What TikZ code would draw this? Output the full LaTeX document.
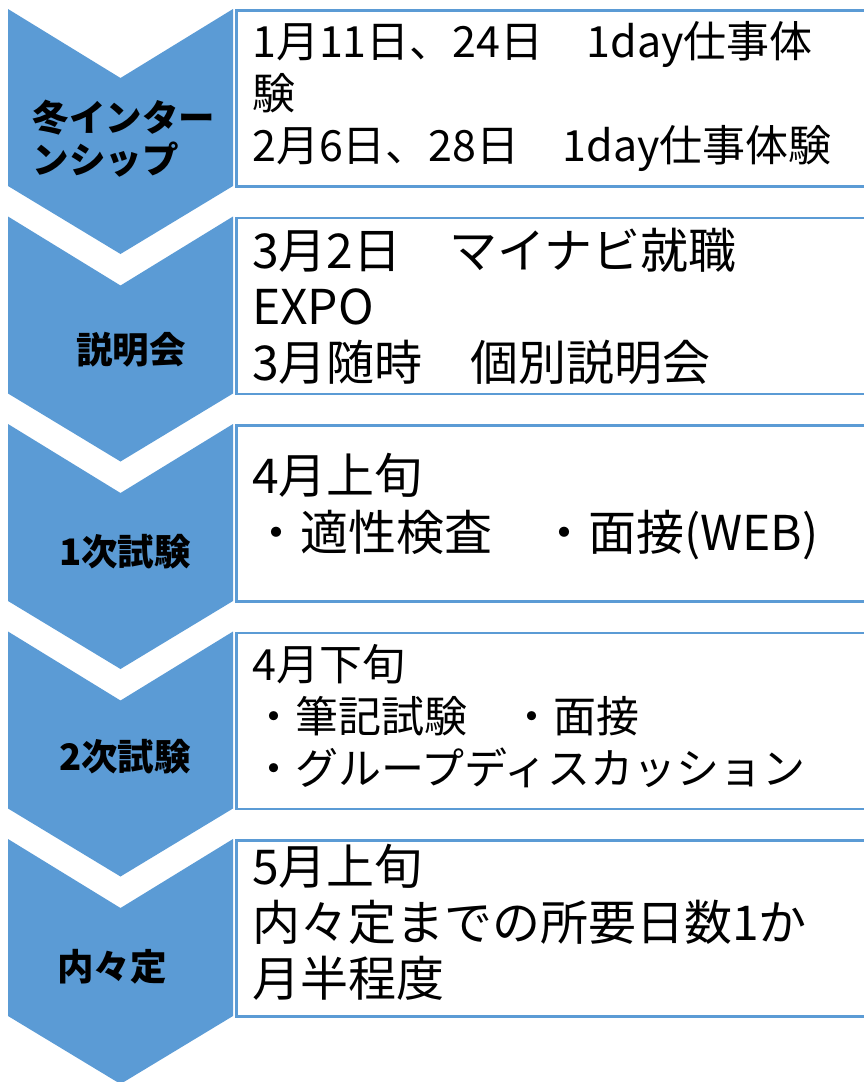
\documentclass[tikz,border=0pt]{standalone}
\usepackage{fontspec}
\setmainfont{Noto Sans CJK JP}
\usepackage{xcolor}
\usepackage{tikz}
\usetikzlibrary{positioning}
\definecolor{chevblue}{HTML}{5B9BD5}
\tikzset{chev/.style={fill=chevblue,draw=none},
  chev label/.style={font=\bfseries\fontsize{36.5}{42}\selectfont,align=left,inner sep=0pt},
  info box/.style={draw=chevblue,line width=2.5pt,fill=white,minimum width=640pt,minimum height=176pt,anchor=north west,inner sep=0pt},
  info text/.style={font=\fontsize{48}{56}\selectfont,align=left,inner sep=0pt,anchor=west},
  small text/.style={info text,font=\fontsize{43}{52}\selectfont},}

\begin{document}
\begin{tikzpicture}[x=1pt,y=-1pt]
	\useasboundingbox (0,0) rectangle (864,1082);

	\begin{scope}[yshift=0pt]
    \fill[chev] (8,9) -- (120.5,78) -- (233,9) -- (233,186) -- (120.5,254) -- (8,186) -- cycle;
    \node[chev label] (step1) at (124,139) {冬インター\\ンシップ};
    \node[info box] (box1) at (235,9) {};
    \node[small text] (text1) at (252,96.5) {1月11日、24日　1day仕事体\\験\\2月6日、28日　1day仕事体験};
    \end{scope}

	\begin{scope}[yshift=-207.5pt]
    \fill[chev] (8,9) -- (120.5,78) -- (233,9) -- (233,186) -- (120.5,254) -- (8,186) -- cycle;
    \node[chev label] (step2) at (131,142.5) {説明会};
    \node[info box] (box2) at (235,9) {};
    \node[info text] (text2) at (252,98.5) {3月2日　マイナビ就職\\EXPO\\3月随時　個別説明会};
    \end{scope}

	\begin{scope}[yshift=-415pt]
    \fill[chev] (8,9) -- (120.5,78) -- (233,9) -- (233,186) -- (120.5,254) -- (8,186) -- cycle;
    \node[chev label] (step3) at (125,137) {1次試験};
    \node[info box] (box3) at (235,9) {};
    \node[info text,font=\fontsize{48}{57}\selectfont] (text3) at (252,91.5) {4月上旬\\・適性検査　・面接(WEB)};
    \end{scope}

	\begin{scope}[yshift=-622.5pt]
    \fill[chev] (8,9) -- (120.5,78) -- (233,9) -- (233,186) -- (120.5,254) -- (8,186) -- cycle;
    \node[chev label] (step4) at (125,134.5) {2次試験};
    \node[info box] (box4) at (235,9) {};
    \node[small text] (text4) at (252,93.5) {4月下旬\\・筆記試験　・面接\\・グループディスカッション};
    \end{scope}

	\begin{scope}[yshift=-830pt]
    \fill[chev] (8,9) -- (120.5,78) -- (233,9) -- (233,186) -- (120.5,254) -- (8,186) -- cycle;
    \node[chev label] (step5) at (112,137) {内々定};
    \node[info box] (box5) at (235,9) {};
    \node[info text] (text5) at (252,92) {5月上旬\\内々定までの所要日数1か\\月半程度};
    \end{scope}
\end{tikzpicture}
\end{document}
